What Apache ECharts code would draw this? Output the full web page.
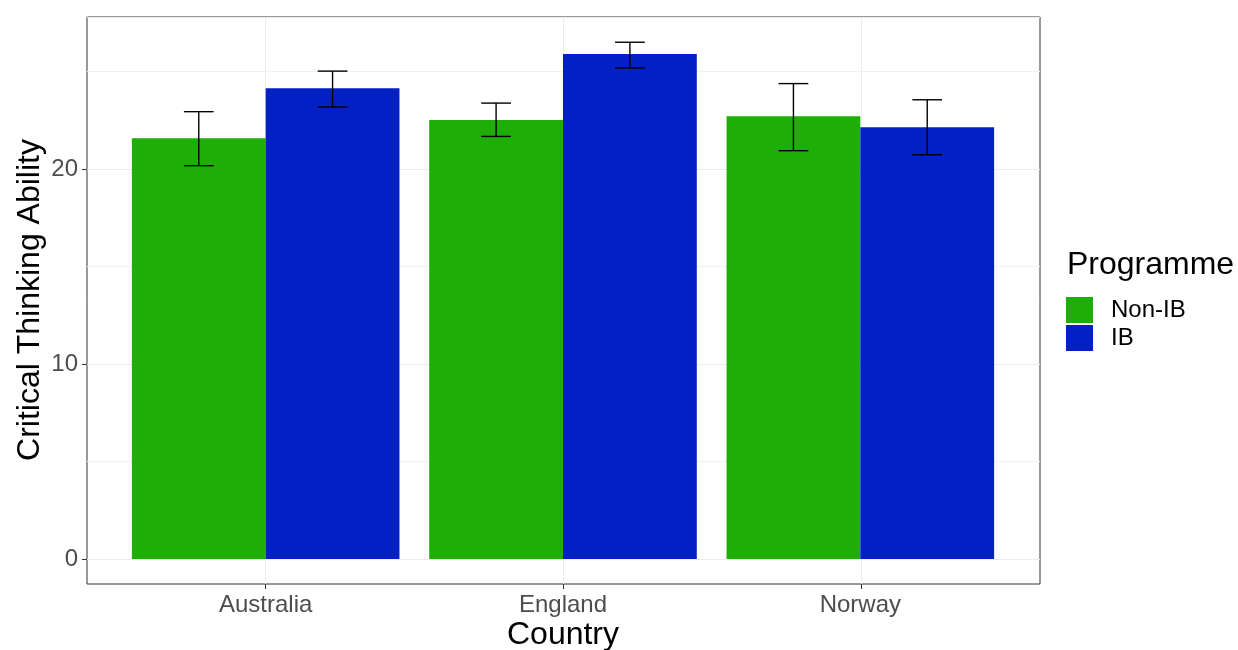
<!DOCTYPE html>
<html>
<head>
<meta charset="utf-8">
<script src="https://cdn.jsdelivr.net/npm/echarts@6/dist/echarts.min.js"></script>
<style>
html,body{margin:0;padding:0;background:#fff;}
#chart{width:1238px;height:650px;}
</style>
</head>
<body>
<div id="chart"></div>
<script>
const countries = ['Australia', 'England', 'Norway'];
const programmes = ['Non-IB', 'IB'];
const nonIBMean = [21.58, 22.51, 22.70];
const ibMean = [24.14, 25.90, 22.14];
const nonIBLower = [20.17, 21.67, 20.94];
const nonIBUpper = [22.94, 23.38, 24.38];
const ibLower = [23.18, 25.18, 20.73];
const ibUpper = [25.02, 26.50, 23.55];
const yTicks = [0, 10, 20];
const colors = ['#1FAD08', '#0320C4'];

const errData = [];
countries.forEach((c, i) => {
  errData.push([i, nonIBLower[i], nonIBUpper[i], 0]);
  errData.push([i, ibLower[i], ibUpper[i], 1]);
});

const yMax = 27.795;
const chart = echarts.init(document.getElementById('chart'));
const font = 'Liberation Sans, Arial, sans-serif';

chart.setOption({
  animation: false,
  textStyle: { fontFamily: font },
  grid: [
    { left: 87, right: 198, top: 17, bottom: 66, show: true, borderColor: '#333333', borderWidth: 1, backgroundColor: 'transparent' },
    { left: 87, right: 198, top: 17, bottom: 91 },
    { left: 117, right: 229, top: 17, bottom: 91 }
  ],
  xAxis: [
    { gridIndex: 0, type: 'value', min: 0.4, max: 3.6,
      axisLine: { show: false }, axisLabel: { show: false },
      axisTick: { show: true, length: 5, customValues: [1, 2, 3], lineStyle: { color: '#333333' } },
      splitLine: { show: true, lineStyle: { color: '#ebebeb', width: 1 } } },
    { gridIndex: 1, type: 'value', show: false },
    { gridIndex: 2, type: 'category', data: countries, offset: 25,
      axisLine: { show: false },
      axisTick: { show: false },
      axisLabel: { fontSize: 24, color: '#4d4d4d', margin: 9, fontFamily: font },
      splitLine: { show: false } }
  ],
  yAxis: [
    { gridIndex: 0, type: 'value', show: false, min: 0, max: 1, splitLine: { show: false } },
    { gridIndex: 1, type: 'value', min: 0, max: yMax,
      axisLine: { show: false },
      axisTick: { show: true, length: 5, customValues: yTicks, lineStyle: { color: '#333333' } },
      axisLabel: { show: true, customValues: yTicks, fontSize: 24, color: '#4d4d4d', margin: 9, fontFamily: font },
      splitLine: { show: false } },
    { gridIndex: 1, type: 'value', min: 0, max: yMax, interval: 5,
      axisLine: { show: false }, axisTick: { show: false }, axisLabel: { show: false },
      splitLine: { show: true, lineStyle: { color: ['#ebebeb', '#f1f1f1'], width: 1 } } },
    { gridIndex: 2, type: 'value', min: 0, max: yMax, show: false, splitLine: { show: false } }
  ],
  legend: {
    data: programmes,
    orient: 'vertical',
    left: 1066, top: 297,
    itemWidth: 27, itemHeight: 26, itemGap: 2,
    icon: 'rect',
    padding: 0,
    textStyle: { fontSize: 24, color: '#000', fontFamily: font, padding: [0, 0, 0, 13] }
  },
  graphic: [
    { type: 'text', left: 1067, top: 249, style: { text: 'Programme', fontSize: 32, fill: '#000', fontFamily: font } },
    { type: 'text', x: 30, y: 300, rotation: Math.PI / 2,
      style: { text: 'Critical Thinking Ability', fontSize: 32, fill: '#000', fontFamily: font, align: 'center', verticalAlign: 'middle' } },
    { type: 'text', x: 563, y: 635,
      style: { text: 'Country', fontSize: 32, fill: '#000', fontFamily: font, align: 'center', verticalAlign: 'middle' } }
  ],
  series: [
    { name: 'Non-IB', type: 'bar', xAxisIndex: 2, yAxisIndex: 3, data: nonIBMean,
      barGap: '0%', barCategoryGap: '10%', itemStyle: { color: colors[0] }, z: 3 },
    { name: 'IB', type: 'bar', xAxisIndex: 2, yAxisIndex: 3, data: ibMean,
      barGap: '0%', barCategoryGap: '10%', itemStyle: { color: colors[1] }, z: 3 },
    { name: 'err', type: 'custom', xAxisIndex: 2, yAxisIndex: 3, data: errData, z: 5,
      renderItem: function (params, api) {
        const ci = api.value(0);
        const lo = api.coord([ci, api.value(1)]);
        const hi = api.coord([ci, api.value(2)]);
        const band = api.size([1, 0])[0];
        const off = (api.value(3) === 0 ? -0.225 : 0.225) * band;
        const x = lo[0] + off;
        const hw = 0.05 * band;
        const st = { stroke: '#000', lineWidth: 1.4 };
        return { type: 'group', children: [
          { type: 'line', shape: { x1: x, y1: lo[1], x2: x, y2: hi[1] }, style: st },
          { type: 'line', shape: { x1: x - hw, y1: lo[1], x2: x + hw, y2: lo[1] }, style: st },
          { type: 'line', shape: { x1: x - hw, y1: hi[1], x2: x + hw, y2: hi[1] }, style: st }
        ] };
      } }
  ]
});
</script>
</body>
</html>
